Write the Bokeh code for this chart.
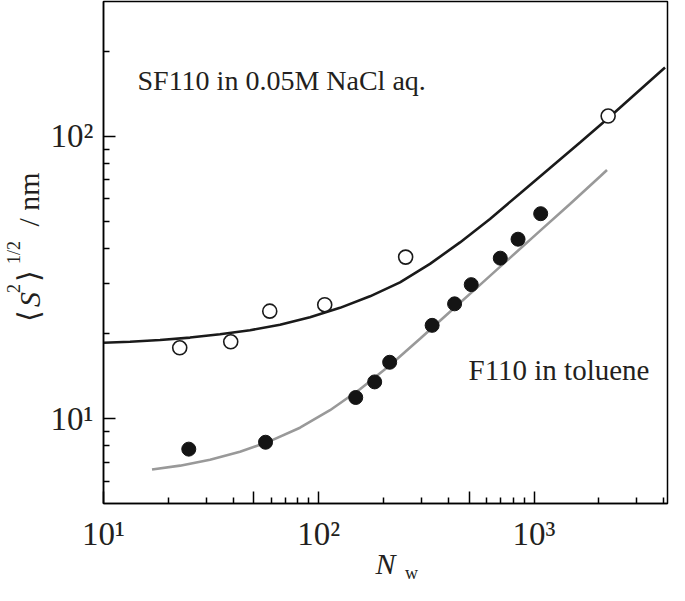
import math
from bokeh.plotting import figure
from bokeh.models import Label, FixedTicker, LinearAxis, Range1d, LinearScale
from bokeh.embed import file_html
from bokeh.resources import INLINE

# ---- data ----
sf110_N = [22.6, 39.0, 59.2, 106.6, 253.3, 2210]
sf110_S = [17.8, 18.7, 24.0, 25.3, 37.3, 117.9]

f110_N = [24.9, 56.6, 148.5, 181.9, 213.5, 336.3, 427.6, 511, 697, 843, 1074]
f110_S = [7.79, 8.24, 11.87, 13.48, 15.82, 21.38, 25.48, 29.8, 36.98, 43.17, 53.15]

sf110_fit_N = [10.0, 13.28, 18.30, 25.23, 34.77, 47.93, 66.07, 91.06, 125.5, 173.0,
               238.5, 328.7, 453.2, 624.6, 861.0, 1187, 1636, 2230, 3009, 4061]
sf110_fit_S = [18.54, 18.70, 18.96, 19.35, 19.88, 20.54, 21.47, 22.83, 24.66, 27.09,
               30.36, 35.30, 42.05, 50.93, 62.68, 77.18, 94.99, 116.5, 142.8, 175.0]

f110_fit_N = [16.80, 22.67, 31.25, 43.06, 59.35, 81.80, 112.8, 155.4, 214.3, 295.4,
              407.2, 561.2, 773.5, 1066, 1470, 2026, 2183]
f110_fit_S = [6.600, 6.808, 7.148, 7.628, 8.312, 9.277, 10.70, 12.70, 15.44, 19.16,
              23.87, 29.75, 37.07, 46.19, 57.56, 72.0, 75.9]

x_major = [10, 50, 100, 500, 1000]
x_minor = [20, 30, 40, 60, 70, 80, 90, 200, 300, 400, 600, 700, 800, 900, 2000, 3000, 4000]
x_labels = {10: "10¹", 50: "", 100: "10²", 500: "", 1000: "10³"}
y_major = [10, 100]
y_minor = [6, 7, 8, 9, 20, 30, 40, 50, 60, 70, 80, 90, 200]
y_labels = {10: "10¹", 100: "10²"}

FONT = "Liberation Serif"
TXT = "#231f20"

X0, X1 = 10, 4170
Y0, Y1 = 5.0, 300
FL, FR, FT, FB = 103, 667, 1, 503   # frame edges in canvas pixels

p = figure(width=669, height=585, x_axis_type="log", y_axis_type="log",
           x_range=(X0, X1), y_range=(Y0, Y1),
           output_backend="svg", toolbar_location=None,
           min_border_left=FL, min_border_right=669 - FR, min_border_top=FT,
           min_border_bottom=585 - FB)
p.grid.visible = False
p.outline_line_color = "black"
p.outline_line_width = 1.5
p.background_fill_color = "white"
p.border_fill_color = "white"

for ax, maj, mino, labs, so in ((p.xaxis[0], x_major, x_minor, x_labels, 12),
                                (p.yaxis[0], y_major, y_minor, y_labels, 10)):
    ax.ticker = FixedTicker(ticks=maj, minor_ticks=mino)
    ax.major_label_overrides = labs
    ax.major_tick_in = 12
    ax.major_tick_out = 0
    ax.minor_tick_in = 6
    ax.minor_tick_out = 0
    ax.axis_line_width = 1.5
    ax.major_tick_line_width = 1.5
    ax.minor_tick_line_width = 1.5
    ax.major_label_text_font = FONT
    ax.major_label_text_font_size = "33px"
    ax.major_label_text_color = TXT
    ax.major_label_standoff = so

# x-axis title: italic N as the axis label
xa = p.xaxis[0]
xa.axis_label = "N"
xa.axis_label_text_font = FONT
xa.axis_label_text_font_style = "italic"
xa.axis_label_text_font_size = "30px"
xa.axis_label_text_color = TXT
xa.axis_label_standoff = -8

# fitted curves
p.line(sf110_fit_N, sf110_fit_S, line_color="#1a1a1a", line_width=2.6)
p.line(f110_fit_N, f110_fit_S, line_color="#999999", line_width=2.6)

# data points
p.scatter(sf110_N, sf110_S, marker="circle", size=14, fill_color="white",
          line_color="#1a1a1a", line_width=1.6)
p.scatter(f110_N, f110_S, marker="circle", size=14, fill_color="#141414",
          line_color="#141414", line_width=1)


def dx(px):
    return 10 ** (math.log10(X0) + (px - FL) / (FR - FL) * (math.log10(X1) - math.log10(X0)))


def dy(py):
    return 10 ** (math.log10(Y0) + (FB - py) / (FB - FT) * (math.log10(Y1) - math.log10(Y0)))


def note(text, px, py, size):
    p.add_layout(Label(x=dx(px), y=dy(py), text=text, text_font=FONT, text_font_size=size,
                       text_color=TXT, text_baseline="alphabetic", text_align="left"))


note("SF110 in 0.05M NaCl aq.", 137, 80, "28px")
note("F110 in toluene", 468, 369, "29px")

# linear pixel ranges used to place the pieces of the axis titles
p.extra_y_ranges = {"py": Range1d(start=FB, end=FT)}
p.extra_y_scales = {"py": LinearScale()}
p.extra_x_ranges = {"px": Range1d(start=FL, end=FR)}
p.extra_x_scales = {"px": LinearScale()}


def title_axis(side, ticks, labels, size, style, standoff):
    if side == "left":
        ax = LinearAxis(y_range_name="py")
        ax.major_label_orientation = "parallel"
    else:
        ax = LinearAxis(x_range_name="px")
    ax.ticker = FixedTicker(ticks=ticks, minor_ticks=[])
    ax.major_label_overrides = labels
    ax.axis_line_color = None
    ax.major_tick_line_color = None
    ax.minor_tick_line_color = None
    ax.major_tick_in = 0
    ax.major_tick_out = 0
    ax.minor_tick_in = 0
    ax.minor_tick_out = 0
    ax.major_label_standoff = standoff
    ax.major_label_text_font = FONT
    ax.major_label_text_font_size = size
    ax.major_label_text_font_style = style
    ax.major_label_text_color = TXT
    p.add_layout(ax, side)


# y title: <S^2>^(1/2) / nm
title_axis("left", [315, 275, 199], {315: "⟨", 275: "⟩", 199: "/ nm"}, "30px", "normal", 3)
title_axis("left", [299], {299: "S"}, "30px", "italic", -37)
title_axis("left", [288, 252], {288: "2", 252: "1/2"}, "18px", "normal", -15)
# x title subscript
title_axis("below", [411], {411: "w"}, "18px", "normal", -20)

open("out.html", "w").write(file_html(p, INLINE))
